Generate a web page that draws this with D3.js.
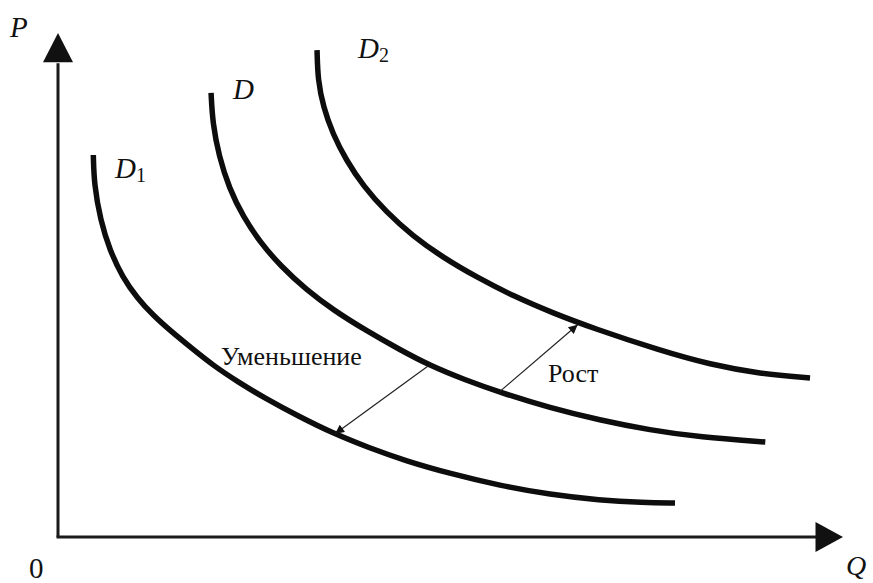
<!DOCTYPE html>
<html>
<head>
<meta charset="utf-8">
<script src="https://cdn.jsdelivr.net/npm/d3@7"></script>
<style>
  body { margin: 0; background: #fff; }
  text { font-family: "Liberation Serif", "Times New Roman", serif; fill: #111; }
</style>
</head>
<body>
<svg width="873" height="583"></svg>
<script>
// demand curves, points as [Q, P]
var curveNames = ["D1", "D", "D2"];
var d1Points = [[4.5,75.8],[4.6,70.0],[5.4,62.9],[6.6,56.9],[8.2,51.6],[10.1,47.4],[12.1,44.0],[14.4,40.8],[17.0,37.5],[19.8,34.0],[22.9,30.8],[26.4,27.5],[30.7,23.9],[35.0,20.6],[39.6,17.7],[44.3,15.1],[49.9,12.6],[56.3,10.2],[62.7,8.4],[69.0,7.3],[74.5,6.85],[78.6,6.75]];
var dPoints  = [[19.5,88.1],[19.7,82.1],[20.5,75.6],[21.8,69.2],[23.6,63.5],[25.8,58.4],[28.4,53.7],[31.6,49.1],[35.1,45.0],[39.2,41.0],[43.5,37.2],[47.4,34.0],[51.8,31.2],[56.3,28.7],[62.7,25.6],[69.0,23.2],[75.4,21.2],[81.8,19.8],[90.1,18.85]];
var d2Points = [[33.0,96.6],[33.1,90.7],[33.8,85.3],[35.0,80.0],[36.7,74.8],[38.9,69.6],[41.8,64.5],[45.2,59.7],[49.0,55.5],[53.4,51.5],[58.0,47.8],[63.1,44.4],[68.2,41.4],[76.7,37.0],[83.1,34.2],[89.4,32.4],[95.8,31.55]];

// shift arrows: from D to the other curve
var shiftLabels = ["Уменьшение", "Рост"];
var shiftArrows = [
  {from: [47.1,33.9], to: [35.3,20.5]},
  {from: [56.3,28.9], to: [66.2,42.1]}
];

var svg = d3.select('svg');
var x = d3.scaleLinear().domain([0, 100]).range([58, 843]);
var y = d3.scaleLinear().domain([0, 100]).range([537, 33]);

var defs = svg.append('defs');
defs.append('marker')
    .attr('id', 'small')
    .attr('viewBox', '0 0 10 10')
    .attr('refX', 10).attr('refY', 5)
    .attr('markerWidth', 14).attr('markerHeight', 9)
    .attr('markerUnits', 'userSpaceOnUse')
    .attr('orient', 'auto')
  .append('path')
    .attr('d', 'M0,0L10,5L0,10Z')
    .attr('fill', '#111');

// axes
var g = svg.append('g');
g.append('line')
    .attr('x1', x(0)).attr('y1', y(0))
    .attr('x2', x(0)).attr('y2', y(94))
    .attr('stroke', '#1a1a1a').attr('stroke-width', 3);
g.append('line')
    .attr('x1', x(0) - 1.5).attr('y1', y(0))
    .attr('x2', x(97)).attr('y2', y(0))
    .attr('stroke', '#1a1a1a').attr('stroke-width', 3);
// arrow heads
g.append('path')
    .attr('d', `M${x(0)},${y(100)}L${x(0) - 15},${y(94.2)}L${x(0) + 15},${y(94.2)}Z`)
    .attr('fill', '#111');
g.append('path')
    .attr('d', `M${x(100)},${y(0)}L${x(96.5)},${y(0) - 15}L${x(96.5)},${y(0) + 15}Z`)
    .attr('fill', '#111');

g.append('text').attr('x', 10).attr('y', 37)
    .attr('font-size', 29).attr('font-style', 'italic').text('P');
g.append('text').attr('x', 29).attr('y', 578)
    .attr('font-size', 29).text('0');
g.append('text').attr('x', 846).attr('y', 575)
    .attr('font-size', 28).attr('font-style', 'italic').text('Q');

// curves (basis smooths the hand-read points)
var line = d3.line()
    .x(d => x(d[0]))
    .y(d => y(d[1]))
    .curve(d3.curveBasis);

var curves = [d1Points, dPoints, d2Points];
g.selectAll('path.demand')
  .data(curves)
  .enter().append('path')
    .attr('class', 'demand')
    .attr('d', line)
    .attr('fill', 'none')
    .attr('stroke', '#0d0d0d')
    .attr('stroke-width', 5.5)
    .attr('stroke-linecap', 'butt');

// curve labels
var labelPos = [[115, 178], [233, 99], [358, 58]];
curveNames.forEach((name, i) => {
  var t = g.append('text')
      .attr('x', labelPos[i][0]).attr('y', labelPos[i][1])
      .attr('font-size', 29);
  t.append('tspan').attr('font-style', 'italic').text('D');
  if (name.length > 1) {
    t.append('tspan').attr('font-size', 20).attr('dy', 4).text(name.slice(1));
  }
});

// shift arrows
g.selectAll('line.shift')
  .data(shiftArrows)
  .enter().append('line')
    .attr('class', 'shift')
    .attr('x1', d => x(d.from[0])).attr('y1', d => y(d.from[1]))
    .attr('x2', d => x(d.to[0])).attr('y2', d => y(d.to[1]))
    .attr('stroke', '#222').attr('stroke-width', 1.2)
    .attr('marker-end', 'url(#small)');

g.append('text').attr('x', 221).attr('y', 365)
    .attr('font-size', 26).text(shiftLabels[0]);
g.append('text').attr('x', 548).attr('y', 382)
    .attr('font-size', 26).text(shiftLabels[1]);
</script>
</body>
</html>
